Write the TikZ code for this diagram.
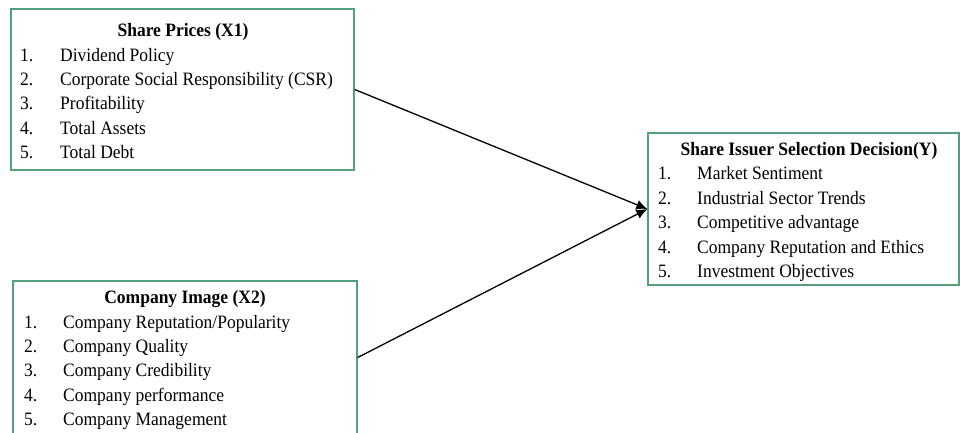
\documentclass[tikz,border=0pt]{standalone}
\usepackage{fontspec}
\usepackage{graphicx}
\setmainfont{Liberation Serif}
\usetikzlibrary{arrows.meta}
\definecolor{boxgreen}{RGB}{84,160,125}
\newcommand{\tstretch}[1]{\scalebox{1}[1.08]{#1}}
\begin{document}
\begin{tikzpicture}[x=1pt,y=-1pt,
  box/.style={draw=boxgreen, line width=1.4pt, inner sep=0pt},
  txt/.style={font=\fontsize{17.5}{21}\selectfont, anchor=base west, inner sep=0pt},
  ttl/.style={font=\fontsize{17.5}{21}\selectfont\bfseries, anchor=base, inner sep=0pt},
  conn/.style={line width=1.3pt, -{Latex[length=11pt,width=10pt]}}]
\useasboundingbox[fill=white] (0,0) rectangle (960,433);
% boxes
\node[box, minimum width=343pt, minimum height=161pt] (b1) at (182.5,89.5) {};
\node[box, minimum width=344pt, minimum height=153pt] (b2) at (185,357.5) {};
\node[box, minimum width=311pt, minimum height=152pt] (b3) at (803.5,209) {};
% box 1
\node[ttl] (t1) at (183,37) {\tstretch{Share Prices (X1)}};
\node[txt] (n11) at (20,62) {\tstretch{1.}};  \node[txt] (i11) at (60,62) {\tstretch{Dividend Policy}};
\node[txt] (n12) at (20,86) {\tstretch{2.}};  \node[txt] (i12) at (60,86) {\tstretch{Corporate Social Responsibility (CSR)}};
\node[txt] (n13) at (20,110) {\tstretch{3.}}; \node[txt] (i13) at (60,110) {\tstretch{Profitability}};
\node[txt] (n14) at (20,134) {\tstretch{4.}}; \node[txt] (i14) at (60,134) {\tstretch{Total Assets}};
\node[txt] (n15) at (20,158) {\tstretch{5.}}; \node[txt] (i15) at (60,158) {\tstretch{Total Debt}};
% box 2
\node[ttl] (t2) at (185,303.5) {\tstretch{Company Image (X2)}};
\node[txt] (n21) at (24,328.5) {\tstretch{1.}}; \node[txt] (i21) at (63,328.5) {\tstretch{Company Reputation/Popularity}};
\node[txt] (n22) at (24,352.5) {\tstretch{2.}}; \node[txt] (i22) at (63,352.5) {\tstretch{Company Quality}};
\node[txt] (n23) at (24,376.5) {\tstretch{3.}}; \node[txt] (i23) at (63,376.5) {\tstretch{Company Credibility}};
\node[txt] (n24) at (24,401) {\tstretch{4.}};   \node[txt] (i24) at (63,401) {\tstretch{Company performance}};
\node[txt] (n25) at (24,425) {\tstretch{5.}};   \node[txt] (i25) at (63,425) {\tstretch{Company Management}};
% box 3
\node[ttl] (t3) at (809,155.5) {\tstretch{Share Issuer Selection Decision(Y)}};
\node[txt] (n31) at (658,179.5) {\tstretch{1.}}; \node[txt] (i31) at (697,179.5) {\tstretch{Market Sentiment}};
\node[txt] (n32) at (658,204) {\tstretch{2.}};   \node[txt] (i32) at (697,204) {\tstretch{Industrial Sector Trends}};
\node[txt] (n33) at (658,228.5) {\tstretch{3.}}; \node[txt] (i33) at (697,228.5) {\tstretch{Competitive advantage}};
\node[txt] (n34) at (658,253) {\tstretch{4.}};   \node[txt] (i34) at (697,253) {\tstretch{Company Reputation and Ethics}};
\node[txt] (n35) at (658,277.5) {\tstretch{5.}}; \node[txt] (i35) at (697,277.5) {\tstretch{Investment Objectives}};
% connectors
\draw[conn] (b1.east) -- (b3.west);
\draw[conn] (b2.east) -- (b3.west);
\end{tikzpicture}
\end{document}
